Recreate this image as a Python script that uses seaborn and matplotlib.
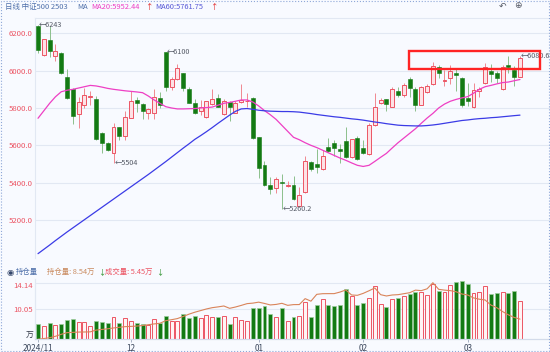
import numpy as np
import pandas as pd
import seaborn as sns
import matplotlib.pyplot as plt
from matplotlib.patches import Rectangle

#%% data (IC2503 daily, 2024/11 - 2025/03)
opens = [6240, 6082, 6164, 6079, 6096, 5964, 5900, 5768, 5818, 5857,
         5848, 5668, 5614, 5561, 5696, 5650, 5748, 5843, 5821, 5771,
         5771, 5854, 6100, 5911, 5954, 5986, 5904, 5825, 5786, 5750,
         5821, 5854, 5768, 5832, 5775, 5832, 5836, 5854, 5643, 5496,
         5386, 5371, 5404, 5382, 5389, 5275, 5350, 5511, 5500, 5471,
         5589, 5611, 5582, 5625, 5536, 5639, 5586, 5554, 5707, 5829,
         5846, 5807, 5893, 5871, 5957, 5900, 5818, 5886, 5929, 6021,
         5943, 5961, 5989, 5961, 5854, 5804, 5889, 5932, 5996, 5986,
         5900, 6029, 6004, 5968]
highs = [6243, 6172, 6240, 6143, 6100, 6007, 5905, 5857, 5907, 5889,
         5864, 5671, 5618, 5718, 5700, 5786, 5889, 5861, 5825, 5802,
         5900, 5886, 6100, 5964, 6036, 5989, 5914, 5846, 5843, 5839,
         5900, 5875, 5846, 5839, 5839, 5929, 5882, 5861, 5646, 5514,
         5429, 5429, 5446, 5411, 5436, 5379, 5543, 5514, 5582, 5575,
         5639, 5629, 5607, 5696, 5636, 5650, 5629, 5718, 5882, 5854,
         5850, 5914, 5914, 5932, 5964, 5914, 5918, 5929, 6046, 6032,
         6004, 6032, 6011, 5968, 5936, 5932, 5914, 6043, 6036, 6000,
         6029, 6079, 6025, 6080.6]
lows = [6097, 6078, 6071, 6054, 5982, 5850, 5714, 5691, 5800, 5818,
        5628, 5557, 5571, 5504, 5628, 5629, 5745, 5779, 5743, 5741,
        5741, 5800, 5889, 5896, 5950, 5889, 5825, 5768, 5760, 5746,
        5818, 5804, 5764, 5732, 5771, 5829, 5804, 5636, 5425, 5382,
        5339, 5343, 5260.2, 5379, 5307, 5275, 5346, 5461, 5454, 5468,
        5564, 5543, 5507, 5532, 5532, 5521, 5554, 5546, 5704, 5821,
        5782, 5804, 5857, 5857, 5857, 5782, 5814, 5882, 5925, 5961,
        5918, 5929, 5893, 5807, 5811, 5800, 5857, 5929, 5939, 5936,
        5896, 5989, 5918, 5964]
closes = [6112, 6168, 6107, 6107, 5986, 5854, 5757, 5832, 5868, 5864,
          5632, 5614, 5575, 5696, 5650, 5750, 5839, 5829, 5782, 5793,
          5857, 5818, 5911, 5954, 6014, 5907, 5829, 5771, 5805, 5836,
          5846, 5807, 5836, 5804, 5825, 5843, 5839, 5639, 5479, 5386,
          5368, 5421, 5396, 5389, 5311, 5336, 5518, 5471, 5486, 5543,
          5571, 5586, 5568, 5536, 5632, 5525, 5561, 5707, 5807, 5843,
          5821, 5900, 5871, 5925, 5907, 5818, 5911, 5918, 6025, 5989,
          5950, 5996, 5979, 5818, 5839, 5896, 5904, 6018, 5982, 5961,
          6021, 6021, 5964, 6068]
ma20 = [5745, 5785, 5825, 5860, 5887, 5895, 5900, 5907, 5914, 5921,
        5918, 5912, 5905, 5900, 5896, 5892, 5889, 5886, 5882, 5864,
        5843, 5825, 5807, 5800, 5795, 5795, 5796, 5797, 5800, 5802,
        5805, 5815, 5825, 5830, 5836, 5843, 5843, 5832, 5811, 5786,
        5764, 5739, 5707, 5675, 5643, 5630, 5614, 5600, 5588, 5574,
        5560, 5546, 5532, 5520, 5506, 5493, 5487, 5493, 5514, 5536,
        5557, 5586, 5614, 5639, 5664, 5689, 5718, 5746, 5771, 5800,
        5821, 5836, 5846, 5854, 5861, 5879, 5900, 5914, 5921, 5929,
        5936, 5939, 5946, 5952.44]
ma60 = [5020, 5043, 5066, 5090, 5113, 5136, 5158, 5180, 5202, 5224,
        5246, 5268, 5290, 5312, 5334, 5356, 5378, 5400, 5422, 5444,
        5467, 5490, 5513, 5537, 5561, 5585, 5608, 5632, 5652, 5673,
        5695, 5718, 5740, 5762, 5782, 5795, 5797, 5793, 5788, 5785,
        5783, 5782, 5781, 5781, 5780, 5778, 5774, 5770, 5765, 5761,
        5757, 5753, 5750, 5746, 5742, 5739, 5735, 5730, 5725, 5721,
        5716, 5712, 5708, 5706, 5705, 5704, 5704, 5706, 5709, 5713,
        5718, 5723, 5728, 5733, 5736, 5740, 5743, 5745, 5748, 5750,
        5753, 5756, 5759, 5761.75]
volume = [2.18, 1.90, 2.28, 2.04, 2.18, 2.75, 2.85, 2.51, 2.47, 1.90,
          2.56, 2.51, 2.37, 3.13, 2.28, 3.08, 2.66, 2.37, 2.18, 2.09,
          2.85, 2.28, 3.37, 2.56, 2.56, 3.60, 3.03, 3.32, 2.99, 3.46,
          3.13, 3.13, 3.32, 2.18, 3.13, 2.75, 2.66, 4.41, 4.41, 4.74,
          3.60, 3.13, 4.41, 2.56, 3.13, 3.37, 5.26, 3.13, 4.84, 5.69,
          4.93, 4.74, 4.84, 7.11, 6.16, 4.84, 5.12, 5.88, 7.58, 5.02,
          4.65, 5.69, 5.83, 6.16, 6.45, 6.73, 6.73, 6.35, 7.87, 6.83,
          6.73, 7.68, 8.15, 8.25, 7.87, 6.54, 6.73, 7.58, 6.45, 6.54,
          6.68, 6.54, 6.92, 5.45]
open_int = [5.44, 5.55, 5.68, 5.90, 6.20, 6.46, 6.50, 6.55, 6.56, 6.58,
            6.85, 6.95, 7.05, 7.18, 7.28, 7.38, 7.42, 7.47, 7.55, 7.68,
            7.80, 7.90, 8.30, 8.45, 8.62, 8.95, 9.30, 9.60, 9.85, 10.10,
            10.30, 10.42, 10.56, 10.20, 10.40, 10.65, 10.92, 11.00, 11.15, 10.95,
            10.72, 10.80, 10.97, 10.66, 10.77, 10.78, 11.69, 11.30, 12.35, 12.45,
            12.46, 12.46, 12.70, 13.02, 12.25, 12.20, 12.50, 12.90, 13.33, 12.30,
            12.10, 12.25, 12.30, 12.45, 12.60, 13.00, 12.92, 13.20, 14.14, 13.12,
            13.00, 12.92, 12.75, 12.40, 12.25, 11.80, 11.60, 11.48, 10.70, 10.30,
            9.70, 9.20, 8.80, 8.54]

month_idx = [0, 16, 38, 56, 74]
month_lbl = ['2024/11', '12', '01', '02', '03']
price_ticks = [6200, 6000, 5800, 5600, 5400, 5200]
marks = [(0, 6243, '6243'), (22, 6100, '6100'), (13, 5504, '5504'),
         (42, 5260.2, '5260.2'), (83, 6080.6, '6080.6')]

df = pd.DataFrame({'open': opens, 'high': highs, 'low': lows, 'close': closes,
                   'ma20': ma20, 'ma60': ma60, 'vol': volume, 'oi': open_int})
df['k'] = np.arange(len(df))
up = df.close >= df.open
dn = ~up

#%% styling
bg = '#f8faff'
red = '#ec5564'
pink = '#fde2e6'
green = '#137a13'
lgreen = '#8cc08c'
grid = '#e2e8f3'

sns.set_theme(style='white')
plt.rcParams['font.family'] = ['Noto Sans CJK SC', 'DejaVu Sans']

W, H = 550, 352
def box(x0, y0, x1, y1):
    return [x0 / W, 1 - y1 / H, (x1 - x0) / W, (y1 - y0) / H]
def ftext(x, y, s, **kw):
    fig.text(x / W, 1 - y / H, s, va='center', **kw)

fig = plt.figure(figsize=(5.5, 3.52), dpi=100, facecolor=bg)
ax = fig.add_axes(box(35, 18.3, 550, 258), facecolor=bg)
axv = fig.add_axes(box(35, 279, 550, 339.3), facecolor=bg)

xlim = (-0.52, 88.17)
bw = 0.68

#%% candles
ax.vlines(df.k[up], df.low[up], df.high[up], color='#f08890', lw=0.7, zorder=2)
ax.vlines(df.k[dn], df.low[dn], df.high[dn], color=lgreen, lw=0.7, zorder=2)
ax.bar(df.k[dn], (df.open - df.close)[dn].clip(lower=3), bottom=df.close[dn],
       width=bw, color=green, edgecolor=green, lw=0.4, zorder=3)
ax.bar(df.k[up], (df.close - df.open)[up].clip(lower=3), bottom=df.open[up],
       width=bw, facecolor=pink, edgecolor=red, lw=0.7, zorder=3)

sns.lineplot(x=df.k, y=df.ma20, ax=ax, color='#ee3fc4', lw=0.9, zorder=4)
sns.lineplot(x=df.k, y=df.ma60, ax=ax, color='#3b3be6', lw=0.9, zorder=4)

for k, v, s in marks:
    ax.annotate('\u2190' + s, (k, v), xytext=(0.6, 0), textcoords='offset points',
                fontsize=5.2, color='#555a66', va='center', ha='left', zorder=5)

ax.add_patch(Rectangle((63.94, 6009), 22.56, 96, fill=False, ec='#ff2424',
                       lw=1.7, zorder=6))

ax.set_xlim(xlim)
ax.set_ylim(4996.7, 6280.3)
ax.set_yticks(price_ticks)
ax.set_yticklabels([f'{t:.1f}' for t in price_ticks])
ax.tick_params(axis='y', length=0, pad=1.5, labelsize=5.6, labelcolor=red)
ax.set_xticks([])
ax.set_xlabel('')
ax.set_ylabel('')
ax.grid(axis='y', color=grid, lw=0.8)
for s in ['right', 'bottom']:
    ax.spines[s].set_visible(False)
for s in ['top', 'left']:
    ax.spines[s].set_color(grid)
    ax.spines[s].set_linewidth(0.8)

#%% volume + open interest
vmax = 8.58
oi_lo, oi_hi = 5.435, 14.71
def oi2vol(v):
    return (v - oi_lo) / (oi_hi - oi_lo) * vmax

for lv in [14.14, 10.05]:
    axv.axhline(oi2vol(lv), color=grid, lw=0.8, zorder=0)
axv.bar(df.k[dn], df.vol[dn], width=bw, color=green, edgecolor='#9ccc9c',
        lw=0.5, zorder=2)
axv.bar(df.k[up], df.vol[up], width=bw, facecolor='#fff4f5', edgecolor=red,
        lw=0.7, zorder=2)
axv.set_xlim(xlim)
axv.set_ylim(0, vmax)

axo = axv.twinx()
sns.lineplot(x=df.k, y=df.oi, ax=axo, color='#d9845a', lw=0.8)
axo.set_ylim(oi_lo, oi_hi)

for a in [axv, axo]:
    a.set_yticks([])
    a.set_ylabel('')
    a.set_xlabel('')
    for s in ['top', 'right']:
        a.spines[s].set_visible(False)
    a.spines['left'].set_color(grid)
    a.spines['bottom'].set_color('#d3dbea')
    a.spines['left'].set_linewidth(0.8)
    a.spines['bottom'].set_linewidth(0.8)
axv.set_xlim(xlim)
axv.set_xticks(month_idx)
axv.set_xticklabels(month_lbl)
axv.tick_params(axis='x', bottom=True, labelbottom=True, length=2, width=0.6,
                color='#9aa6ba', pad=1.2, labelsize=5.9, labelcolor='#3b475c')

#%% header texts
ftext(5, 7, '日线 中证500 2503', color='#4f70aa', fontsize=5.4)
ftext(77, 7, 'MA', color='#4f70aa', fontsize=5.4)
ftext(91.5, 7, 'MA20:5952.44', color='#ee3fc4', fontsize=5.4)
ftext(146, 7, '\u2191', color='#e02020', fontsize=5.4)
ftext(155, 7, 'MA60:5761.75', color='#5658d6', fontsize=5.4)
ftext(211, 7, '\u2191', color='#e02020', fontsize=5.4)
ftext(499, 6, '\u21b6', color='#555a66', fontsize=6.5, family='DejaVu Sans')
ftext(514, 6, '\u2295', color='#555a66', fontsize=6.5, family='DejaVu Sans')

ftext(6, 272, '\u25c9', color='#34466b', fontsize=6, family='DejaVu Sans')
ftext(16, 272, '持仓量', color='#4f70aa', fontsize=5.3)
ftext(47, 272, '持仓量: 8.54万', color='#c98a5e', fontsize=5.3)
ftext(98.5, 272, '\u2193', color='#1f8a1f', fontsize=5.3)
ftext(105, 272, '成交量: 5.45万', color=red, fontsize=5.3)
ftext(156, 272, '\u2193', color='#1f8a1f', fontsize=5.3)

ftext(33, 286, '14.14', color=red, fontsize=5.6, ha='right')
ftext(33, 310, '10.05', color=red, fontsize=5.6, ha='right')
ftext(33, 335, '万', color='#333a48', fontsize=5.6, ha='right')

fig.patches.append(Rectangle((0.002, 0.003), 0.996, 0.994, transform=fig.transFigure,
                             fill=False, ls=':', ec='#8fa8d8', lw=0.8))

fig.savefig('out.png', dpi=100, facecolor=bg)
